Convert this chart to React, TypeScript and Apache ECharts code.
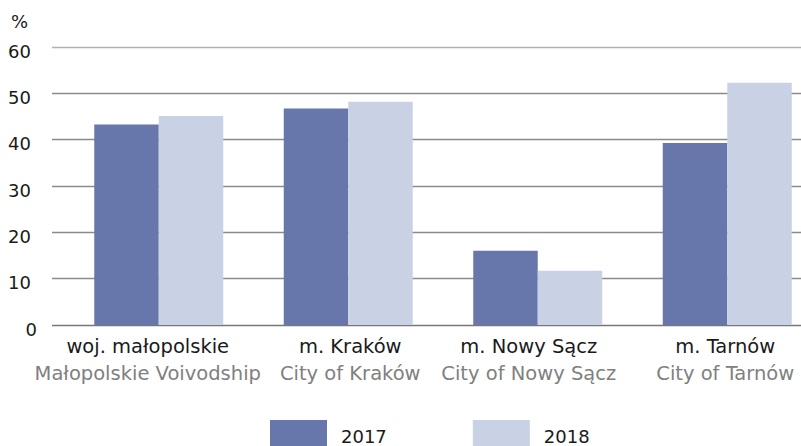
import React, { useEffect, useRef } from "react";
import * as echarts from "echarts";

const categoriesPl = ["woj. małopolskie", "m. Kraków", "m. Nowy Sącz", "m. Tarnów"];
const categoriesEn = ["Małopolskie Voivodship", "City of Kraków", "City of Nowy Sącz", "City of Tarnów"];
const seriesNames = ["2017", "2018"];
const values2017 = [43.3, 46.7, 16.0, 39.3];
const values2018 = [45.1, 48.2, 11.7, 52.3];
const yTicks = [0, 10, 20, 30, 40, 50, 60];

// layout only: horizontal nudge of each category label (px)
const labelShift = [-11, 2, -9, -2];

const FONT = "'DejaVu Sans', 'Noto Sans', sans-serif";

export default function App() {
  const ref = useRef<HTMLDivElement>(null);
  useEffect(() => {
    if (!ref.current) return;
    const chart = echarts.init(ref.current, undefined, { renderer: "svg" });
    const catLabels = categoriesPl.map((p, i) => `${p}\n${categoriesEn[i]}`);
    const rich: Record<string, any> = {};
    labelShift.forEach((s, i) => {
      const pad = s < 0 ? [0, -2 * s, 0, 0] : [0, 0, 0, 2 * s];
      rich[`a${i}`] = { fontSize: 19.5, color: "#1a1a1a", lineHeight: 27, fontFamily: FONT, padding: pad };
      rich[`b${i}`] = { fontSize: 19.5, color: "#808080", lineHeight: 27, fontFamily: FONT, padding: pad };
    });
    chart.setOption({
      animation: false,
      textStyle: { fontFamily: FONT },
      grid: [
        { left: 52, right: 0, top: 47, height: 278, outerBoundsMode: "none" },
        { left: 64, width: 758, top: 47, height: 278, outerBoundsMode: "none" },
      ],
      xAxis: [
        { type: "value", gridIndex: 0, show: false, min: 0, max: 1 },
        {
          type: "category",
          gridIndex: 1,
          data: catLabels,
          axisLine: { show: false },
          axisTick: { show: false },
          axisLabel: {
            interval: 0,
            margin: 8,
            formatter: (v: string, idx: number) => {
              const [a, b] = v.split("\n");
              return `{a${idx}|${a}}\n{b${idx}|${b}}`;
            },
            rich,
          },
        },
      ],
      yAxis: [
        {
          type: "value",
          gridIndex: 0,
          min: yTicks[0],
          max: yTicks[yTicks.length - 1],
          interval: 10,
          name: "%",
          nameLocation: "end",
          nameGap: 17,
          nameTextStyle: { fontSize: 18, color: "#1a1a1a", align: "right", padding: [0, 24, 0, 0], fontFamily: FONT },
          axisLine: { show: false },
          axisTick: { show: false },
          splitLine: {
            show: true,
            lineStyle: {
              color: ["#777777", "#8a8a8a", "#8a8a8a", "#8a8a8a", "#8a8a8a", "#8a8a8a", "#b0b0b0"],
              width: 1.3,
            },
          },
          axisLabel: {
            margin: 15,
            formatter: (v: number) => (v === 0 ? `{z|${v}}` : `{n|${v}}`),
            rich: {
              n: { fontSize: 18, color: "#1a1a1a", padding: [8, 6, 0, 0], fontFamily: FONT },
              z: { fontSize: 18, color: "#1a1a1a", padding: [8, 0, 0, 0], fontFamily: FONT },
            },
          },
        },
        { type: "value", gridIndex: 1, min: 0, max: 60, show: false },
      ],
      legend: {
        data: seriesNames,
        left: 270,
        top: 420,
        padding: 0,
        itemWidth: 57,
        itemHeight: 32,
        itemGap: 86,
        icon: "rect",
        textStyle: { fontSize: 18, lineHeight: 16, color: "#1a1a1a", padding: [0, 0, 0, 9], fontFamily: FONT },
      },
      series: [
        {
          name: seriesNames[0],
          type: "bar",
          xAxisIndex: 1,
          yAxisIndex: 1,
          data: values2017,
          barWidth: 64.5,
          barGap: "0%",
          itemStyle: { color: "#6777ab" },
        },
        {
          name: seriesNames[1],
          type: "bar",
          xAxisIndex: 1,
          yAxisIndex: 1,
          data: values2018,
          barWidth: 64.5,
          barGap: "0%",
          itemStyle: { color: "#c9d1e4" },
        },
      ],
    });
    return () => chart.dispose();
  }, []);
  return <div ref={ref} style={{ width: 801, height: 446, position: "absolute", left: 0, top: 0 }} />;
}
